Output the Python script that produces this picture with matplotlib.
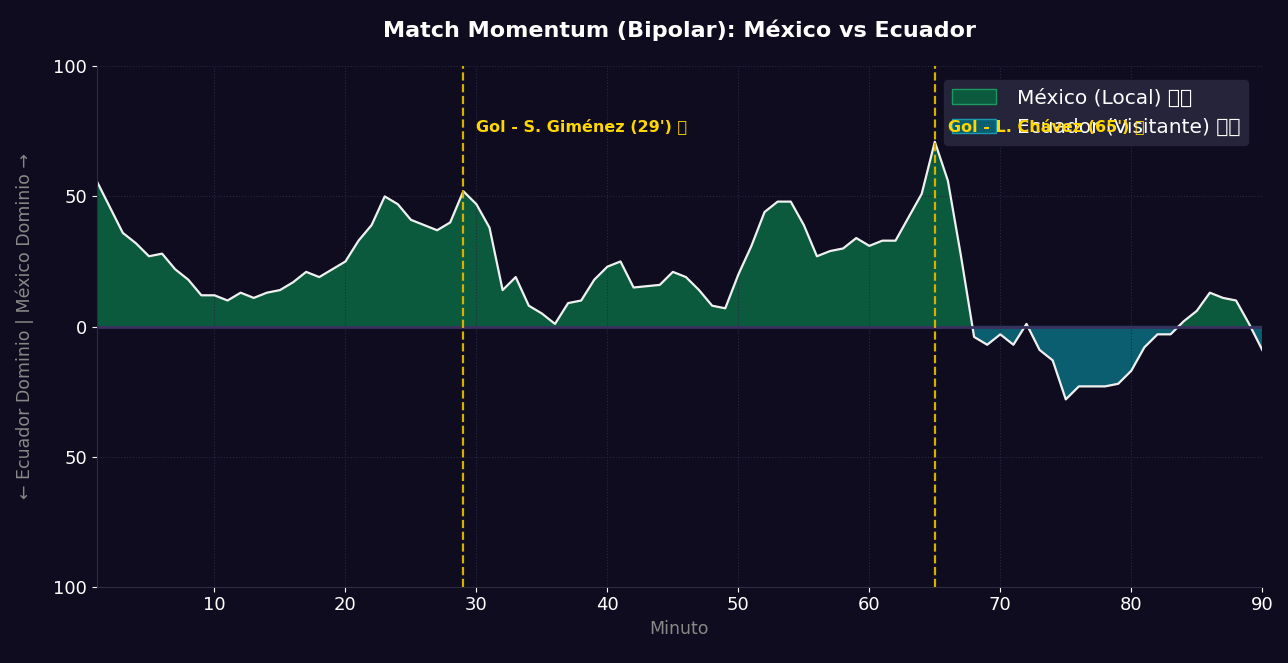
import numpy as np
import matplotlib.pyplot as plt
from matplotlib.ticker import FuncFormatter

minutes = np.arange(1, 91)
momentum = np.array([56, 46, 36, 32, 27, 28, 22, 18, 12, 12,
                     10, 13, 11, 13, 14, 17, 21, 19, 22, 25,
                     33, 39, 50, 47, 41, 39, 37, 40, 52, 47,
                     38, 14, 19, 8, 5, 1, 9, 10, 18, 23,
                     25, 15, 15.5, 16, 21, 19, 14, 8, 7, 20,
                     31, 44, 48, 48, 39, 27, 29, 30, 34, 31,
                     33, 33, 42, 51, 71, 56, 27, -4, -7, -3,
                     -7, 1, -9, -13, -28, -23, -23, -23, -22, -17,
                     -8, -3, -3, 2, 6, 13, 11, 10, 1, -9])
goals = [(29, "Gol - S. Giménez (29') ⚽"), (65, "Gol - L. Chávez (65') ⚽")]

bg = '#0e0c1e'
fig, ax = plt.subplots(figsize=(12.88, 6.63), dpi=100)
fig.patch.set_facecolor(bg)
ax.set_facecolor(bg)

ax.fill_between(minutes, momentum, 0, where=momentum >= 0, interpolate=True,
                color='#0b5a3e', label='México (Local) 🇲🇽')
ax.fill_between(minutes, momentum, 0, where=momentum <= 0, interpolate=True,
                color='#0b5e70', label='Ecuador (Visitante) 🇪🇨')
ax.plot(minutes, momentum, color='#f0f0f0', lw=1.6)
ax.axhline(0, color='#3a3060', lw=2)

for m, label in goals:
    ax.axvline(m, color='#d4b000', ls='--', lw=1.6)
    ax.text(m + 1, 77, label, color='#ffd700', fontsize=11.5, fontweight='bold',
            va='center', zorder=10)

ax.set_xlim(1, 90)
ax.set_ylim(-100, 100)
ax.set_yticks([-100, -50, 0, 50, 100])
ax.yaxis.set_major_formatter(FuncFormatter(lambda v, p: f'{abs(int(v))}'))
ax.set_xticks(range(10, 91, 10))
ax.grid(True, color='#2a2840', ls=':', lw=0.8)
ax.tick_params(colors='white', labelsize=13)
for s in ['top', 'right']:
    ax.spines[s].set_visible(False)
for s in ['left', 'bottom']:
    ax.spines[s].set_color('#2e2c40')

ax.set_xlabel('Minuto', color='#888888', fontsize=12.5)
ax.set_ylabel('← Ecuador Dominio | México Dominio →', color='#888888',
              fontsize=12.5, labelpad=14)
ax.set_title('Match Momentum (Bipolar): México vs Ecuador', color='white',
             fontsize=16, fontweight='bold', pad=21)

leg = ax.legend(loc='upper right', fontsize=14.5, facecolor='#26243a',
                edgecolor='#26243a', labelcolor='white', framealpha=1,
                borderaxespad=0.7, handlelength=2.2, handletextpad=1.0)
leg.get_patches()[0].set_edgecolor('#1a9a60')
leg.get_patches()[1].set_edgecolor('#1a9aae')

plt.subplots_adjust(left=0.075, right=0.98, top=0.9, bottom=0.115)
plt.savefig('out.png', dpi=100, facecolor=bg)
